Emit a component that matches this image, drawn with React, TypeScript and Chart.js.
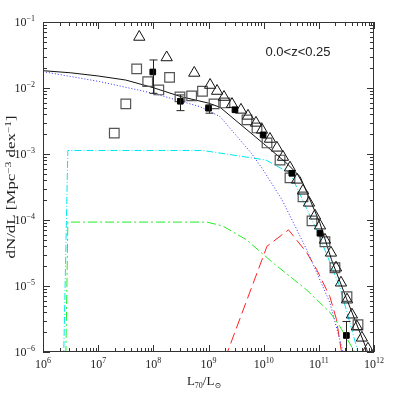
import React, { useEffect, useRef } from "react";
import { Chart, registerables } from "chart.js";

Chart.register(...registerables);

// ---------- axis / label data ----------
const xTickExponents = [6, 7, 8, 9, 10, 11, 12];
const yTickExponents = [-6, -5, -4, -3, -2, -1];
const panelLabel = "0.0<z<0.25";

// ---------- model curves ----------
const totalModelL = [1e6, 3.162e6, 1e7, 3.162e7, 1e8, 3.162e8, 1e9, 1.622e9, 3.162e9, 1e10, 2.63e10, 4.57e10, 1.047e11, 1.698e11, 3.162e11, 7.41e11, 8.91e11];
const totalModelPhi = [1.83e-2, 1.7e-2, 1.52e-2, 1.32e-2, 1.01e-2, 7.4e-3, 5.9e-3, 5.1e-3, 3.19e-3, 1.43e-3, 7.2e-4, 4.55e-4, 9.0e-5, 2.5e-5, 6.5e-6, 1.08e-6, 6e-7];

const blueModelL = [1e6, 1.07e7, 1e8, 7.08e8, 1.62e9, 6.03e9, 9.77e9, 2.14e10, 6.03e10, 1.585e11, 2.75e11, 3.0e11];
const blueModelPhi = [1.77e-2, 1.25e-2, 8.3e-3, 5.2e-3, 3.69e-3, 1.02e-3, 5.75e-4, 2.04e-4, 3.55e-5, 5.6e-6, 1.0e-6, 7e-7];

const cyanModelL = [2.34e6, 2.82e6, 7.94e8, 1.1e10, 3.02e10, 9.12e10, 2.4e11, 5.13e11, 5.6e11];
const cyanModelPhi = [5e-7, 1.13e-3, 1.13e-3, 8.1e-4, 5.1e-4, 7.1e-5, 9.8e-6, 1.0e-6, 7e-7];

const greenModelL = [2.57e6, 2.82e6, 9.33e8, 1.82e9, 4.9e9, 1.48e10, 6.03e10, 1.585e11, 2.4e11, 4.47e11, 5.0e11];
const greenModelPhi = [5e-7, 9.3e-5, 9.3e-5, 8.1e-5, 5.0e-5, 2.24e-5, 8.7e-6, 4.0e-6, 2.45e-6, 1.0e-6, 7e-7];

const redModelL = [2.0e9, 1.15e10, 2.82e10, 6.03e10, 9.12e10, 1.585e11, 2.09e11, 2.57e11, 2.7e11];
const redModelPhi = [8e-7, 4.0e-5, 7.1e-5, 3.2e-5, 1.78e-5, 6.9e-6, 3.1e-6, 1.0e-6, 7e-7];

// ---------- data points ----------
const openSquareL = [1.96e7, 3.17e7, 4.99e7, 7.91e7, 1.256e8, 1.97e8, 3.04e8, 4.95e8, 7.78e8, 1.26e9, 1.99e9, 4.99e9, 7.57e9, 1.15e10, 1.98e10, 3.0e10, 5.16e10, 7.52e10, 1.29e11, 1.96e11, 3.24e11, 5.13e11];
const openSquarePhi = [2.07e-3, 5.74e-3, 1.95e-2, 1.25e-2, 9.35e-3, 1.45e-2, 7.33e-3, 7.59e-3, 8.93e-3, 5.74e-3, 5.94e-3, 3.29e-3, 2.48e-3, 1.47e-3, 8.1e-4, 4.35e-4, 2.24e-4, 9.7e-5, 4.68e-5, 1.89e-5, 6.9e-6, 2.59e-6];

const triangleL = [5.56e7, 1.746e8, 5.52e8, 1.07e9, 1.43e9, 1.91e9, 2.67e9, 3.88e9, 5.2e9, 7.26e9, 9.33e9, 1.3e10, 1.74e10, 2.24e10, 3.0e10, 4.02e10, 5.16e10, 6.64e10, 8.51e10, 1.05e11, 1.29e11, 1.66e11, 2.05e11, 2.52e11, 3.24e11, 3.98e11, 4.9e11, 6.03e11, 7.76e11];
const trianglePhi = [5.93e-2, 2.9e-2, 1.69e-2, 1.11e-2, 9.0e-3, 7.3e-3, 5.7e-3, 4.66e-3, 3.78e-3, 2.96e-3, 2.32e-3, 1.69e-3, 1.24e-3, 9.0e-4, 6.2e-4, 4.06e-4, 2.77e-4, 1.82e-4, 1.16e-4, 8.2e-5, 5.0e-5, 3.18e-5, 1.89e-5, 1.12e-5, 6.2e-6, 3.67e-6, 2.42e-6, 1.64e-6, 1.12e-6];

const filledSquareL = [9.77e7, 3.09e8, 1.0e9, 3.02e9, 9.77e9, 3.24e10, 1.047e11, 3.16e11];
const filledSquarePhi = [1.75e-2, 6.3e-3, 4.94e-3, 4.68e-3, 1.95e-3, 5.1e-4, 6.3e-5, 1.78e-6];
const filledSquareErrLow = [8.3e-3, 4.54e-3, 4.15e-3, 4.68e-3, 1.95e-3, 5.1e-4, 6.3e-5, 1e-7];
const filledSquareErrHigh = [2.66e-2, 7.85e-3, 5.55e-3, 4.68e-3, 1.95e-3, 5.1e-4, 6.3e-5, 2.9e-6];

const SERIF = '"Liberation Serif", "DejaVu Serif", "Times New Roman", serif';
const SANS = '"Liberation Sans", Arial, "DejaVu Sans", sans-serif';

const toPoints = (xs: number[], ys: number[]) => xs.map((x, i) => ({ x, y: ys[i] }));

type Seg = { t: string; size: number; dy: number };

function segWidths(ctx: CanvasRenderingContext2D, segs: Seg[]) {
  return segs.map((s) => {
    ctx.font = `${s.size}px ${SERIF}`;
    return ctx.measureText(s.t).width;
  });
}

function drawSegs(ctx: CanvasRenderingContext2D, segs: Seg[], x0: number, y: number) {
  const ws = segWidths(ctx, segs);
  let x = x0;
  segs.forEach((s, i) => {
    ctx.font = `${s.size}px ${SERIF}`;
    ctx.fillText(s.t, x, y + s.dy);
    x += ws[i];
  });
}

function powSegs(exp: number): Seg[] {
  const sup = exp < 0 ? "\u2212" + String(-exp) : String(exp);
  return [
    { t: "10", size: 12, dy: 0 },
    { t: sup, size: 8, dy: -4 },
  ];
}

const axesPlugin = {
  id: "axesFrame",
  afterDatasetsDraw(chart: any) {
    const { ctx, chartArea, scales } = chart;
    const xs = scales.x;
    const ys = scales.y;
    // error bars
    ctx.save();
    ctx.beginPath();
    ctx.rect(chartArea.left, chartArea.top, chartArea.right - chartArea.left, chartArea.bottom - chartArea.top);
    ctx.clip();
    ctx.strokeStyle = "#222";
    ctx.lineWidth = 1;
    filledSquareL.forEach((L, i) => {
      const lo = filledSquareErrLow[i];
      const hi = filledSquareErrHigh[i];
      if (lo === hi) return;
      const px = Math.round(xs.getPixelForValue(L)) + 0.5;
      const pLo = ys.getPixelForValue(lo);
      const pHi = ys.getPixelForValue(hi);
      ctx.beginPath();
      ctx.moveTo(px, pLo);
      ctx.lineTo(px, pHi);
      ctx.moveTo(px - 4, pLo);
      ctx.lineTo(px + 4, pLo);
      ctx.moveTo(px - 4, pHi);
      ctx.lineTo(px + 4, pHi);
      ctx.stroke();
    });
    ctx.restore();
  },
  afterDraw(chart: any) {
    const { ctx, chartArea, scales } = chart;
    const { left, right, top, bottom } = chartArea;
    const xs = scales.x;
    const ys = scales.y;
    ctx.save();
    ctx.strokeStyle = "#333";
    ctx.lineWidth = 1;
    ctx.strokeRect(left + 0.5, top + 0.5, right - left - 1, bottom - top - 1);

    ctx.beginPath();
    // x ticks
    for (let e = xTickExponents[0]; e <= xTickExponents[xTickExponents.length - 1]; e++) {
      for (let m = 1; m <= 9; m++) {
        const v = m * Math.pow(10, e);
        if (v > xs.max * 1.0001) break;
        const px = Math.round(xs.getPixelForValue(v)) + 0.5;
        const len = m === 1 ? 7 : 4;
        ctx.moveTo(px, bottom);
        ctx.lineTo(px, bottom - len);
        ctx.moveTo(px, top);
        ctx.lineTo(px, top + len);
      }
    }
    // y ticks
    for (let e = yTickExponents[0]; e <= yTickExponents[yTickExponents.length - 1]; e++) {
      for (let m = 1; m <= 9; m++) {
        const v = m * Math.pow(10, e);
        if (v > ys.max * 1.0001) break;
        const py = Math.round(ys.getPixelForValue(v)) + 0.5;
        const len = m === 1 ? 7 : 4;
        ctx.moveTo(left, py);
        ctx.lineTo(left + len, py);
        ctx.moveTo(right, py);
        ctx.lineTo(right - len, py);
      }
    }
    ctx.stroke();

    ctx.fillStyle = "#222";
    ctx.textAlign = "left";
    ctx.textBaseline = "middle";
    // y tick labels
    yTickExponents.forEach((e) => {
      const segs = powSegs(e);
      const w = segWidths(ctx, segs).reduce((a, b) => a + b, 0);
      const py = ys.getPixelForValue(Math.pow(10, e));
      drawSegs(ctx, segs, left - 8 - w, py + 0.5);
    });
    // x tick labels
    xTickExponents.forEach((e) => {
      const segs = powSegs(e);
      const w = segWidths(ctx, segs).reduce((a, b) => a + b, 0);
      const px = xs.getPixelForValue(Math.pow(10, e));
      drawSegs(ctx, segs, px - w / 2, bottom + 13);
    });

    // x title
    ctx.textBaseline = "alphabetic";
    const xt: Seg[] = [
      { t: "L", size: 13, dy: 0 },
      { t: "70", size: 8, dy: 2.5 },
      { t: "/L", size: 13, dy: 0 },
      { t: "\u2299", size: 8, dy: 2.5 },
    ];
    const xw = segWidths(ctx, xt).reduce((a, b) => a + b, 0);
    drawSegs(ctx, xt, 204 - xw / 2, 385);

    // y title (rotated)
    const yt: Seg[] = [
      { t: "dN/dL [Mpc", size: 12, dy: 0 },
      { t: "\u22123", size: 8, dy: -4.5 },
      { t: " dex", size: 12, dy: 0 },
      { t: "\u22121", size: 8, dy: -4.5 },
      { t: "]", size: 12, dy: 0 },
    ];
    const yw = segWidths(ctx, yt).reduce((a, b) => a + b, 0);
    const sx = 143 / yw;
    ctx.save();
    ctx.translate(15, 187);
    ctx.rotate(-Math.PI / 2);
    ctx.scale(sx, 1);
    drawSegs(ctx, yt, -yw / 2, 0);
    ctx.restore();

    // panel label
    ctx.font = `13px ${SANS}`;
    ctx.textAlign = "center";
    ctx.textBaseline = "middle";
    ctx.fillText(panelLabel, 298, 52);
    ctx.restore();
  },
};

export default function App() {
  const ref = useRef<HTMLCanvasElement | null>(null);
  useEffect(() => {
    document.body.style.margin = "0";
    const canvas = ref.current;
    if (!canvas) return;
    const lineDs = (label: string, xs: number[], ys: number[], color: string, dash: number[], order: number) => ({
      label,
      data: toPoints(xs, ys),
      showLine: true,
      borderColor: color,
      backgroundColor: color,
      borderWidth: 1,
      borderDash: dash,
      pointRadius: 0,
      tension: 0,
      order,
    });
    const chart = new Chart(canvas, {
      type: "scatter",
      data: {
        datasets: [
          {
            label: "filled",
            data: toPoints(filledSquareL, filledSquarePhi),
            pointStyle: "rect",
            pointRadius: 4,
            backgroundColor: "#000",
            borderColor: "#000",
            borderWidth: 1,
            order: 0,
          },
          {
            label: "triangles",
            data: toPoints(triangleL, trianglePhi),
            pointStyle: "triangle",
            pointRadius: 6.5,
            backgroundColor: "rgba(0,0,0,0)",
            borderColor: "#111",
            borderWidth: 1,
            order: 1,
          },
          {
            label: "squares",
            data: toPoints(openSquareL, openSquarePhi),
            pointStyle: "rect",
            pointRadius: 6.8,
            backgroundColor: "rgba(0,0,0,0)",
            borderColor: "#555",
            borderWidth: 1.2,
            order: 2,
          },
          lineDs("total", totalModelL, totalModelPhi, "#111", [], 3),
          lineDs("blue", blueModelL, blueModelPhi, "#3030ff", [1, 2], 4),
          lineDs("cyan", cyanModelL, cyanModelPhi, "#00e8f0", [7, 2, 1, 2], 5),
          lineDs("green", greenModelL, greenModelPhi, "#22ee22", [9, 3, 2, 3], 6),
          lineDs("red", redModelL, redModelPhi, "#ff2020", [11, 5], 7),
        ],
      },
      options: {
        animation: false,
        responsive: false,
        maintainAspectRatio: false,
        layout: { padding: { left: 43, top: 22, right: 21, bottom: 43 } },
        plugins: { legend: { display: false }, tooltip: { enabled: false } },
        scales: {
          x: { type: "logarithmic", min: 1e6, max: 1e12, display: false },
          y: { type: "logarithmic", min: 1e-6, max: 1e-1, display: false },
        },
      },
      plugins: [axesPlugin],
    } as any);
    return () => chart.destroy();
  }, []);
  return (
    <canvas
      ref={ref}
      width={395}
      height={395}
      style={{ display: "block", width: "395px", height: "395px", background: "#fff" }}
    />
  );
}
